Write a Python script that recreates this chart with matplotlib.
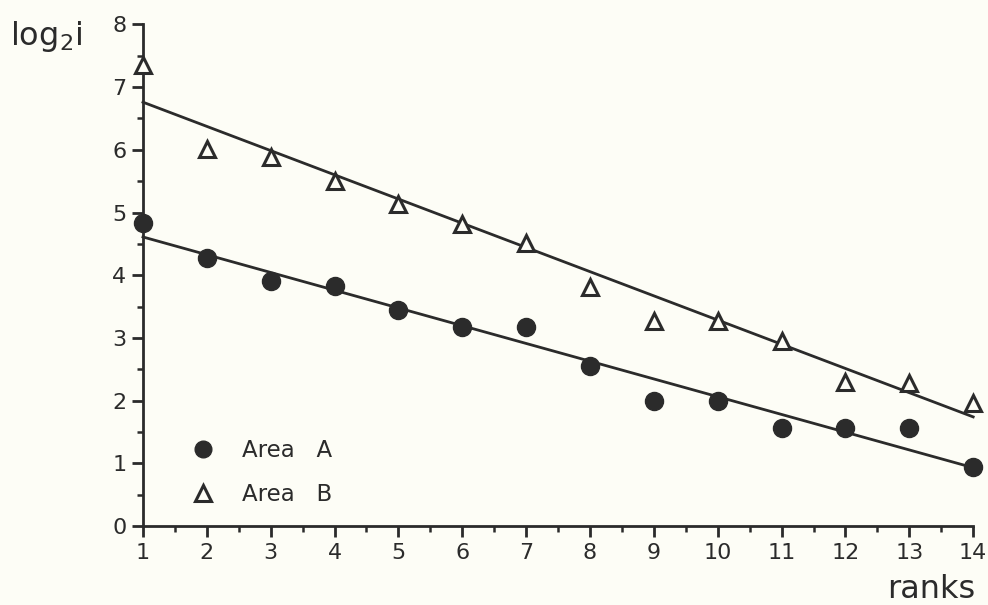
import matplotlib
matplotlib.use("Agg")
import matplotlib.pyplot as plt
import numpy as np
from matplotlib.ticker import MultipleLocator

ranks = list(range(1, 15))
area_a = [4.83, 4.27, 3.90, 3.82, 3.44, 3.17, 3.17, 2.55, 1.99, 1.99, 1.56, 1.56, 1.56, 0.94]
area_b = [7.35, 6.02, 5.88, 5.50, 5.13, 4.81, 4.51, 3.81, 3.27, 3.27, 2.95, 2.29, 2.28, 1.96]
fit_x = [1, 14]
fit_a = [4.61, 0.93]
fit_b = [6.76, 1.74]

ink = "#2b2b2b"
bg = "#fdfdf6"
plt.rcParams['font.family'] = ['DejaVu Sans']

fig = plt.figure(figsize=(9.88, 6.05), dpi=100, facecolor=bg)
ax = fig.add_axes([0.1447, 0.1306, 0.8403, 0.829])
ax.set_facecolor(bg)

ax.plot(fit_x, fit_a, color=ink, lw=2.0, zorder=2, clip_on=False)
ax.plot(fit_x, fit_b, color=ink, lw=2.0, zorder=2, clip_on=False)
hA, = ax.plot(ranks, area_a, 'o', color=ink, ms=13, mec=ink, zorder=3, clip_on=False, label='Area   A')
hB, = ax.plot(ranks, area_b, '^', color=ink, ms=12, mfc=bg, mec=ink, mew=2.2, zorder=3, clip_on=False, label='Area   B')

ax.set_xlim(1, 14)
ax.set_ylim(0, 8)
ax.xaxis.set_major_locator(MultipleLocator(1))
ax.xaxis.set_minor_locator(MultipleLocator(0.5))
ax.yaxis.set_major_locator(MultipleLocator(1))
ax.yaxis.set_minor_locator(MultipleLocator(0.5))
for s in ['top', 'right']:
    ax.spines[s].set_visible(False)
for s in ['left', 'bottom']:
    ax.spines[s].set_linewidth(2.0)
    ax.spines[s].set_color(ink)
ax.tick_params(which='major', length=8, width=2, color=ink, labelsize=16, labelcolor=ink, pad=4)
ax.tick_params(which='minor', length=4, width=1.8, color=ink)

fig.text(0.010, 0.925, r'log$_2$i', fontsize=23, color=ink, ha='left', va='baseline')
fig.text(0.987, 0.012, 'ranks', fontsize=23, color=ink, ha='right', va='baseline')

leg = ax.legend(handles=[hA, hB], loc='upper left', bbox_to_anchor=(0.02, 0.215),
                frameon=False, fontsize=16.5, handletextpad=0.7, labelspacing=0.92,
                labelcolor=ink, markerscale=1.0)
for h in leg.legend_handles:
    h.set_markersize(12)

fig.savefig("out.png", dpi=100, facecolor=bg)
